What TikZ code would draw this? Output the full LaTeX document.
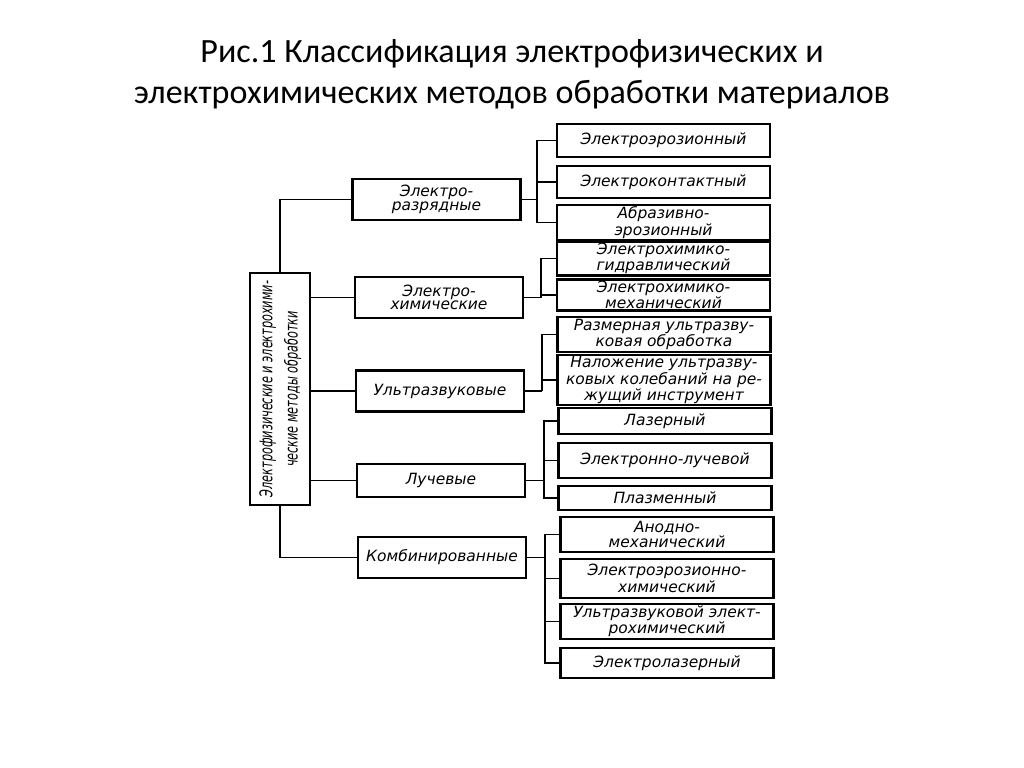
\documentclass[tikz,border=0pt]{standalone}
\usepackage{fontspec}
\usepackage{graphicx}
\setmainfont{Carlito}
\newfontfamily\handfont{DejaVu Sans}
\usetikzlibrary{positioning,calc}

\begin{document}
\begin{tikzpicture}[
    x=0.025cm, y=-0.025cm,
    box/.style={rectangle, draw, line width=1.7pt, inner sep=1pt, align=center, font=\handfont\itshape\fontsize{11}{9.5}\selectfont},
    group/.style={box, minimum width=4.2cm, minimum height=1.025cm},
    leaf/.style={box, minimum width=5.325cm},
    root/.style={rectangle, draw, line width=1.7pt, minimum width=1.5cm, minimum height=5.8cm, inner sep=0pt},
    line/.style={line width=1pt}
]
\useasboundingbox (0,0) rectangle (1024,768);

% Title
\node[font=\fontsize{24.2}{29}\selectfont, align=center] (title) at (512,74)
    {Рис.1 Классификация электрофизических и\\электрохимических методов обработки материалов};

% Root
\node[root] (root) at (280,389) {\rotatebox{90}{\scalebox{0.64}[1]{\handfont\itshape\fontsize{12.5}{18}\selectfont
    \begin{tabular}{@{}c@{}}Электрофизические и электрохими-\\ческие методы обработки\end{tabular}}}};

% Groups
\node[group] (m1) at (436.5,199.5) {Электро-\\разрядные};
\node[group] (m2) at (439,297.5) {Электро-\\химические};
\node[group] (m3) at (440,391) {Ультразвуковые};
\node[group, minimum height=0.825cm] (m4) at (441,480.5) {Лучевые};
\node[group] (m5) at (442,557.5) {Комбинированные};

% Methods
\node[leaf, minimum height=0.825cm] (l11) at (663.5,140.5) {Электроэрозионный};
\node[leaf, minimum height=0.8cm] (l12) at (663.5,182) {Электроконтактный};
\node[leaf, minimum height=0.825cm] (l13) at (663.5,222.5) {Абразивно-\\эрозионный};

\node[leaf, minimum height=0.775cm] (l21) at (663.5,258.5) {Электрохимико-\\гидравлический};
\node[leaf, minimum height=0.65cm] (l22) at (663.5,295) {Электрохимико-\\механический};

\node[leaf, minimum height=0.875cm] (l31) at (664,334.5) {Размерная ультразву-\\ковая обработка};
\node[leaf, minimum height=1.05cm] (l32) at (664,380) {Наложение ультразву-\\ковых колебаний на ре-\\жущий инструмент};

\node[leaf, minimum height=0.65cm] (l41) at (665,421) {Лазерный};
\node[leaf, minimum height=0.875cm] (l42) at (665,460.5) {Электронно-лучевой};
\node[leaf, minimum height=0.6cm] (l43) at (665,498) {Плазменный};

\node[leaf, minimum height=0.875cm] (l51) at (667,534.5) {Анодно-\\механический};
\node[leaf, minimum height=0.975cm] (l52) at (667,578.5) {Электроэрозионно-\\химический};
\node[leaf, minimum height=0.875cm] (l53) at (667,621.5) {Ультразвуковой элект-\\рохимический};
\node[leaf, minimum height=0.75cm] (l54) at (667,663) {Электролазерный};

% Junctions
\coordinate (j1) at (537,199.5);
\coordinate (j2) at (541,297.5);
\coordinate (j3) at (542,391);
\coordinate (j4) at (544,480.5);
\coordinate (j5) at (545,557.5);

% Root to groups
\draw[line] (root.north) |- (m1.west);
\draw[line] (root.east |- m2.west) -- (m2.west);
\draw[line] (root.east |- m3.west) -- (m3.west);
\draw[line] (root.east |- m4.west) -- (m4.west);
\draw[line] (root.south) |- (m5.west);

% Groups to methods
\draw[line] (m1.east) -- (j1);
\foreach \l in {l11,l12,l13} \draw[line] (j1) |- (\l.west);
\draw[line] (m2.east) -- (j2);
\foreach \l in {l21,l22} \draw[line] (j2) |- (\l.west);
\draw[line] (m3.east) -- (j3);
\foreach \l in {l31,l32} \draw[line] (j3) |- (\l.west);
\draw[line] (m4.east) -- (j4);
\foreach \l in {l41,l42,l43} \draw[line] (j4) |- (\l.west);
\draw[line] (m5.east) -- (j5);
\foreach \l in {l51,l52,l53,l54} \draw[line] (j5) |- (\l.west);

\end{tikzpicture}
\end{document}
